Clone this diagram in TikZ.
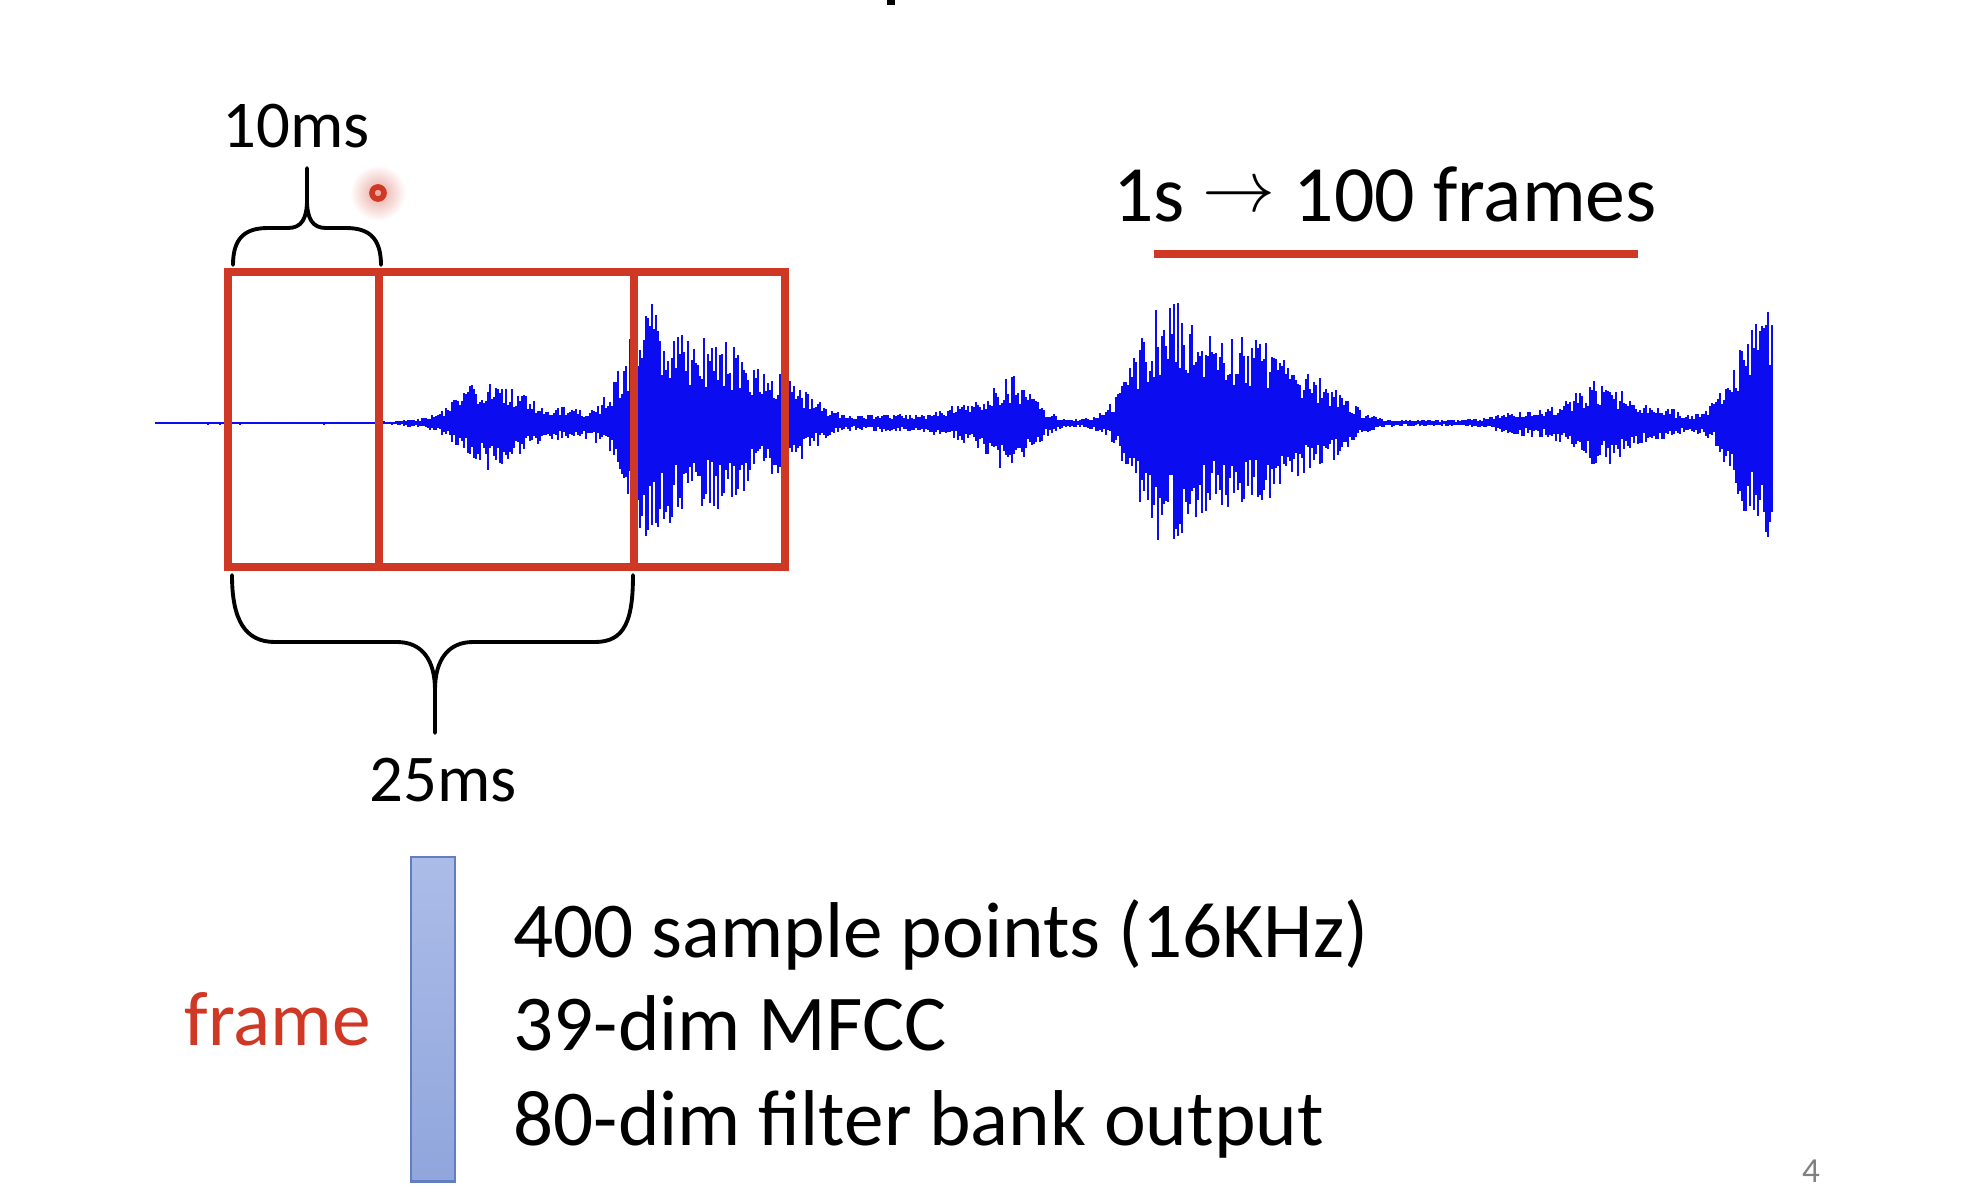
\documentclass[tikz,border=0pt]{standalone}
\usepackage{fontspec}
\setmainfont{Carlito}
\usepackage{tikz}
\usetikzlibrary{positioning}

\definecolor{framered}{RGB}{208,56,38}
\definecolor{waveblue}{RGB}{12,12,240}
\definecolor{bartop}{RGB}{172,188,232}
\definecolor{barbot}{RGB}{144,166,220}
\definecolor{barline}{RGB}{98,126,192}

% one burst of the envelope: bump(x, centre, height, width)
\pgfmathdeclarefunction{bump}{4}{%
  \pgfmathparse{#3*exp(-min(((#1-#2)/#4)^2,15))}%
}

\begin{document}
\begin{tikzpicture}[
    x=0.01cm, y=-0.01cm,
    ms/.style={font=\fontsize{19}{23}\selectfont, inner sep=0pt, anchor=base},
    info/.style={font=\fontsize{22.5}{27}\selectfont, inner sep=0pt, anchor=base west},
    framebox/.style={draw=framered, line width=2pt},
    bracket/.style={draw=black, line width=1.1pt, line cap=round},
    bar/.style={rectangle, draw=barline, line width=0.8pt, top color=bartop, bottom color=barbot, minimum width=0.44cm, minimum height=3.24cm, inner sep=0pt}
]
\useasboundingbox (0,0) rectangle (1962,1202);

% cut-off title stroke
\draw[line width=2.3pt] (891,0) -- (891,5);

% Waveform
\pgfmathsetseed{42}
\foreach \xx in {156,158,...,1772} {
  \pgfmathsetmacro\env{(\xx<395 ? 1.5 : 3)
    + bump(\xx,490,45,40) + bump(\xx,565,12,40)
    + bump(\xx,650,110,35) + bump(\xx,720,82,45) + bump(\xx,790,35,35)
    + bump(\xx,890,6,60)
    + bump(\xx,960,12,30) + bump(\xx,1011,45,30)
    + bump(\xx,1165,110,40) + bump(\xx,1250,82,60) + bump(\xx,1330,25,30)
    + bump(\xx,1530,10,40) + bump(\xx,1600,40,35) + bump(\xx,1660,12,30)
    + bump(\xx,1768,122,40)}
  \pgfmathsetmacro\wtop{423-\env*(0.4+0.6*rnd)}
  \pgfmathsetmacro\wbot{423+\env*(0.4+0.6*rnd)}
  \draw[waveblue, line width=0.45pt] (\xx,\wtop) -- (\xx,\wbot);
}

% Frames: 25ms windows, 10ms shift
\draw[framebox] (228,272) rectangle (634,567);
\draw[framebox] (379,272) rectangle (785,567);

% Laser pointer
\shade[inner color=framered!45, outer color=white] (378,193) circle (28);
\draw[framered, line width=1.6pt] (378,193) circle (6);

% Braces
\draw[bracket] (233,265) .. controls (233,238) and (245,228) .. (268,228) -- (288,228) .. controls (302,228) and (307,218) .. (307,200) -- (307,168);
\draw[bracket] (307,200) .. controls (307,218) and (312,228) .. (326,228) -- (346,228) .. controls (369,228) and (381,238) .. (381,265);
\node[ms] (shift) at (296,147) {10ms};

\draw[bracket] (232,575) .. controls (232,620) and (245,642) .. (275,642) -- (397,642) .. controls (422,642) and (435,660) .. (435,690) -- (435,733);
\draw[bracket] (435,690) .. controls (435,660) and (448,642) .. (473,642) -- (595,642) .. controls (625,642) and (633,620) .. (633,575);
\node[ms] (win) at (443,801) {25ms};

% Frame rate
\node[font=\fontsize{22.7}{27}\selectfont, inner sep=0pt, anchor=base] (rate) at (1385,221) {1s \raisebox{2.6pt}{\fontsize{19.5}{22}\selectfont$\rightarrow$} 100 frames};
\draw[framered, line width=2.3pt] (1154,254) -- (1638,254);

% One frame
\node[bar] (bar) at (433,1019) {};
\node[font=\fontsize{22}{27}\selectfont, text=framered, inner sep=0pt, left=0.38cm of bar] (frame) {frame};
\node[info] (pts) at (513,957) {400 sample points (16KHz)};
\node[info] (mfcc) at (513,1050) {39-dim MFCC};
\node[info] (fbank) at (513,1145) {80-dim filter bank output};

% page number
\node[font=\fontsize{10}{12}\selectfont, text=gray, inner sep=0pt, anchor=base] (page) at (1811,1182) {4};

\end{tikzpicture}
\end{document}
